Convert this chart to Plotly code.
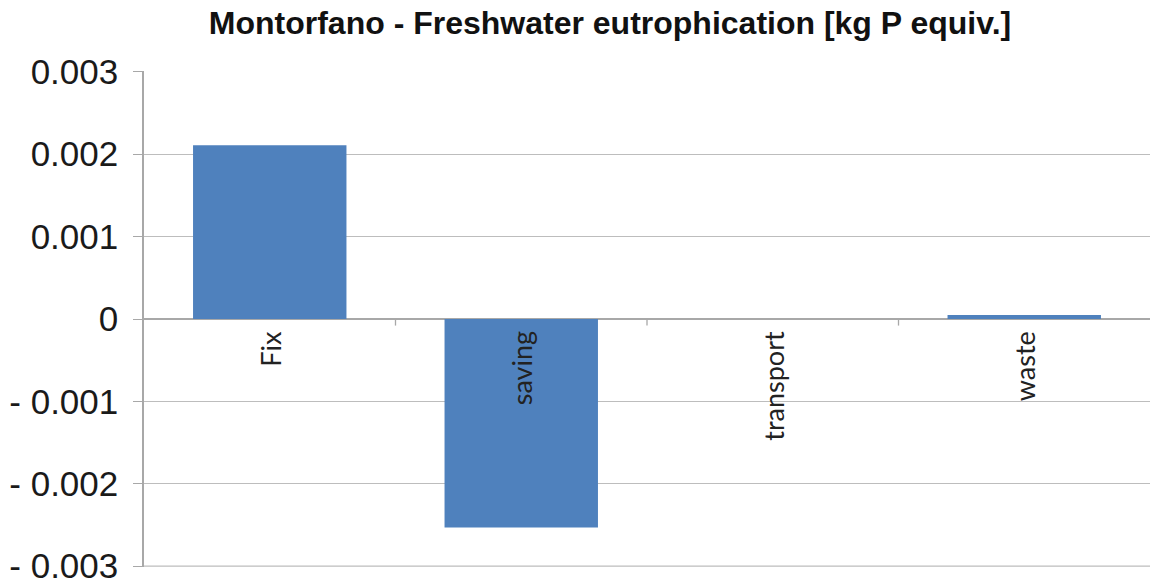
import plotly.graph_objects as go

categories = ["Fix", "saving", "transport", "waste"]
values = [0.00211, -0.00253, 0.0, 0.00005]
tick_vals = [0.003, 0.002, 0.001, 0, -0.001, -0.002, -0.003]
tick_text = ["0.003", "0.002", "0.001", "0", "- 0.001", "- 0.002", "- 0.003"]

fig = go.Figure()
fig.add_trace(go.Bar(x=categories, y=values, marker=dict(color="#4F81BD", line=dict(width=0)),
                     width=0.61))

for c in categories:
    fig.add_annotation(x=c, y=0, xref="x", yref="y", text=c, textangle=-90,
                       showarrow=False, yanchor="top", xanchor="center", yshift=-10,
                       font=dict(family="Lato", size=27, color="#222222"))

fig.update_layout(
    width=1151, height=585,
    margin=dict(l=144, r=1, t=71, b=18, autoexpand=False),
    paper_bgcolor="white", plot_bgcolor="white",
    showlegend=False,
    bargap=0.39,
    title=dict(text="<b>Montorfano - Freshwater eutrophication [kg P equiv.]</b>",
               x=610/1151, xref="container", xanchor="center",
               y=1 - 23/585, yref="container", yanchor="middle",
               font=dict(family="Liberation Sans", size=32, color="#111111")),
)
fig.update_xaxes(showticklabels=False, showgrid=False, zeroline=False, showline=False,
                 range=[-0.5, 3.5], automargin=False)
fig.update_yaxes(range=[-0.00301, 0.00301], tickvals=tick_vals, ticktext=tick_text,
                 automargin=False, ticklabeloverflow="allow",
                 showgrid=True, gridcolor="#BDBDBD", gridwidth=1.3,
                 zeroline=True, zerolinecolor="#A8A8A8", zerolinewidth=1.5,
                 showline=True, linecolor="#A8A8A8", linewidth=1.5,
                 ticks="outside", ticklen=9, tickcolor="#A8A8A8", tickwidth=1.3,
                 ticklabelstandoff=8,
                 tickfont=dict(family="Liberation Sans", size=35, color="#1a1a1a"))

# bottom gridline (at lowest tick)
fig.add_shape(type="line", x0=0, x1=1, xref="paper", y0=tick_vals[-1], y1=tick_vals[-1], yref="y",
              line=dict(color="#BDBDBD", width=1.3), layer="below")

# category boundary ticks on zero line
for i in range(1, 4):
    fig.add_shape(type="line", x0=i - 0.5, x1=i - 0.5, y0=0, y1=-0.00008, xref="x", yref="y",
                  line=dict(color="#A8A8A8", width=1.3))

fig.write_html("out.html", config={"displayModeBar": False},
               post_script="document.body.style.margin='0';document.body.style.overflow='hidden';")
